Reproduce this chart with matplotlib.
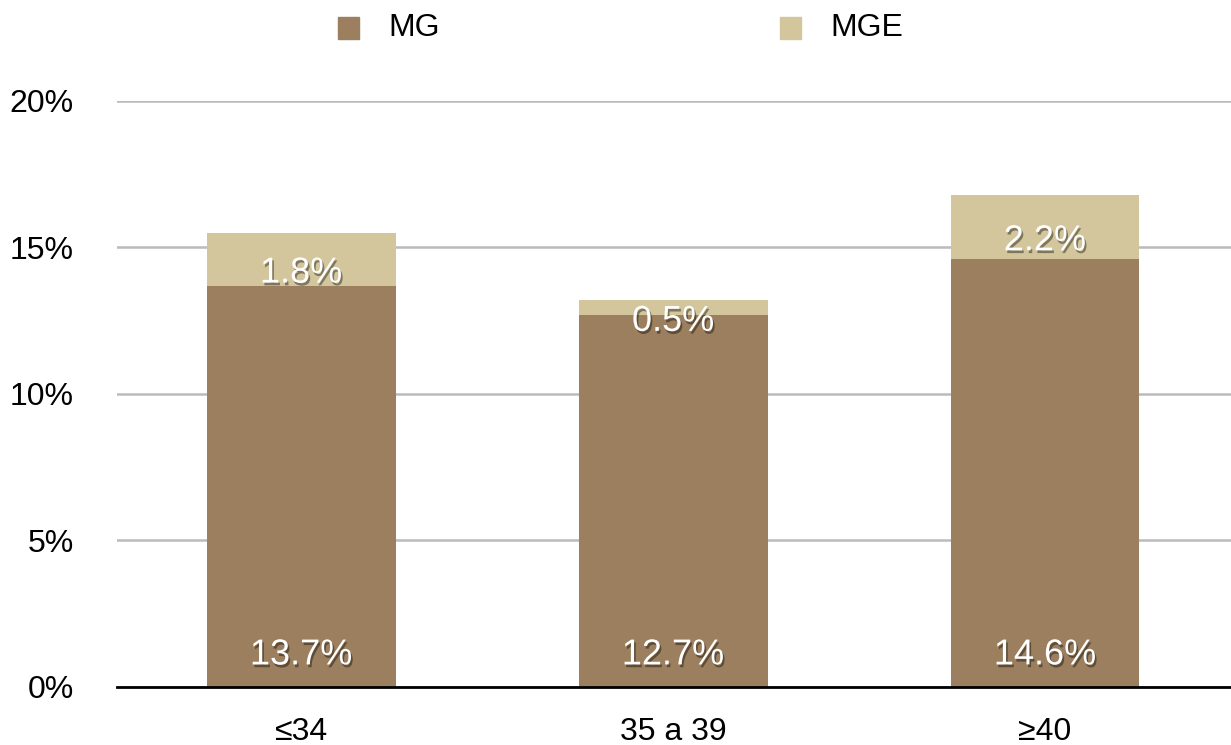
import matplotlib
matplotlib.use("Agg")
import matplotlib.pyplot as plt
import matplotlib.patheffects as pe
from matplotlib.patches import Rectangle

plt.rcParams['font.family'] = ['Liberation Sans', 'DejaVu Sans']

categories = ["≤34", "35 a 39", "≥40"]
mg = [13.7, 12.7, 14.6]
mge = [1.8, 0.5, 2.2]
series_names = ["MG", "MGE"]
y_ticks = [0, 5, 10, 15, 20]
y_tick_labels = ["0%", "5%", "10%", "15%", "20%"]

c_mg = "#9c7f5e"
c_mge = "#d3c59c"

fig = plt.figure(figsize=(12.31, 7.45), dpi=100)
ax = fig.add_axes([0.095, 0.078, 0.905, 0.7865])

x = list(range(len(categories)))
ax.bar(x, mg, width=0.508, color=c_mg, zorder=3)
ax.bar(x, mge, width=0.508, bottom=mg, color=c_mge, zorder=3)

ax.set_xlim(-0.495, 2.5)
ax.set_ylim(0, 20)
ax.set_yticks(y_ticks)
ax.set_yticklabels(y_tick_labels)
ax.set_xticks(x)
ax.set_xticklabels(categories)
ax.tick_params(axis='y', length=0, pad=31, labelsize=23)
ax.tick_params(axis='x', length=0, pad=22, labelsize=23)
ax.grid(axis='y', color="#bbbbbb", linewidth=1.8, zorder=0)
for s in ["top", "left", "right"]:
    ax.spines[s].set_visible(False)
ax.spines["bottom"].set_linewidth(2)
ax.spines["bottom"].set_zorder(4)

shadow = [pe.withSimplePatchShadow(offset=(1.2, -2), shadow_rgbFace="black", alpha=0.4)]

for i in x:
    ax.annotate(f"{mg[i]:.1f}%", xy=(i, 0), xytext=(0, 23), textcoords="offset points",
                ha="center", va="center", color="white", fontsize=26, zorder=5,
                path_effects=shadow)
    ax.annotate(f"{mge[i]:.1f}%", xy=(i, mg[i] + mge[i] / 2), xytext=(0, -10),
                textcoords="offset points", ha="center", va="center", color="white",
                fontsize=26, zorder=5, path_effects=shadow)

# Legend drawn on the figure above the plot
W, H = 1231, 745
legend_items = [(series_names[0], c_mg, 338, 388), (series_names[1], c_mge, 780, 830)]
for name, col, sx, tx in legend_items:
    fig.patches.append(Rectangle((sx / W, 1 - 39 / H), 21 / W, 22 / H,
                                 transform=fig.transFigure, color=col))
    fig.text(tx / W, 1 - 28 / H, name, ha="left", va="center", fontsize=23)

fig.savefig("out.png", dpi=100)
